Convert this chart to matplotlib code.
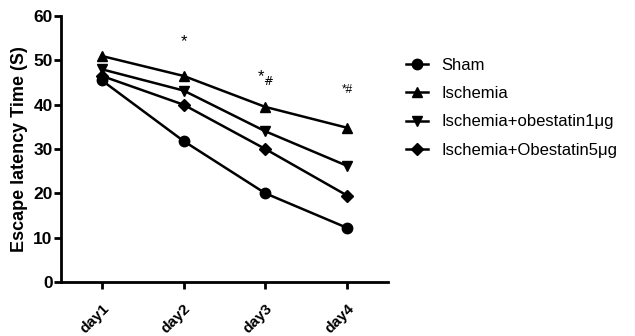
import matplotlib as mpl
mpl.use("Agg")
import matplotlib.pyplot as plt

plt.rcParams["font.family"] = ["Liberation Sans", "DejaVu Sans"]

# data
days = ["day1", "day2", "day3", "day4"]
sham = [45.5, 31.8, 20.0, 12.2]
ischemia = [51.0, 46.5, 39.5, 34.8]
obestatin1 = [48.0, 43.2, 34.0, 26.2]
obestatin5 = [46.5, 40.0, 30.0, 19.5]

SERIES = [
    ("Sham", sham, "o"),
    ("Ischemia", ischemia, "^"),
    ("Ischemia+obestatin1\u03bcg", obestatin1, "v"),
    ("Ischemia+Obestatin5\u03bcg", obestatin5, "D"),
]

# significance marks: (day index, y value, text, size)
MARKS = [(1, 52.5, "*", 12), (2, 44.0, "*$_{\\#}$", 12), (3, 42.0, "*#", 8.5)]


def main():
    fig = plt.figure(figsize=(6.35, 3.36), dpi=100)
    ax = fig.add_axes([0.096, 0.161, 0.515, 0.791])
    x = list(range(len(days)))
    for label, values, marker in SERIES:
        ms = 6.5 if marker == "D" else 7.5
        ax.plot(x, values, color="black", linewidth=1.8, marker=marker,
                markersize=ms, label=label)

    for i, y, txt, size in MARKS:
        ax.text(x[i], y, txt, ha="center", va="bottom", fontsize=size)

    ax.set_xlim(-0.5, 3.5)
    ax.set_ylim(0, 60)
    ax.set_yticks(range(0, 61, 10))
    ax.set_xticks(x)
    ax.set_xticklabels(days, rotation=45, ha="right", rotation_mode="anchor",
                       fontsize=11, fontweight="bold")
    for lbl in ax.get_yticklabels():
        lbl.set_fontweight("bold")
        lbl.set_fontsize(12.5)
    ax.set_ylabel("Escape latency Time (S)", fontsize=13, fontweight="bold",
                  labelpad=4)
    ax.spines["top"].set_visible(False)
    ax.spines["right"].set_visible(False)
    ax.spines["left"].set_linewidth(2)
    ax.spines["bottom"].set_linewidth(2)
    ax.tick_params(axis="both", width=2, length=5, pad=1)
    ax.tick_params(axis="x", pad=9)

    ax.legend(loc="upper left", bbox_to_anchor=(1.01, 0.90), frameon=False,
              fontsize=12, handlelength=1.3, labelspacing=0.8, handletextpad=0.8)

    fig.savefig("out.png", dpi=100)
    plt.close(fig)


if __name__ == "__main__":
    main()
